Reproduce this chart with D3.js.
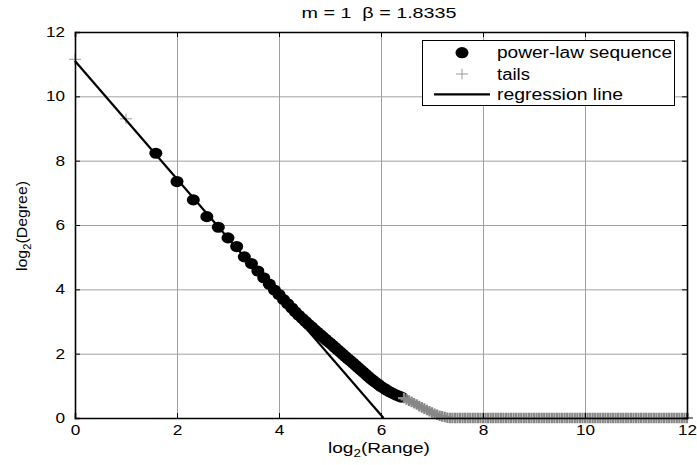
<!DOCTYPE html>
<html>
<head>
<meta charset="utf-8">
<script src="https://cdnjs.cloudflare.com/ajax/libs/d3/7.8.5/d3.min.js"></script>
<style>
    body { margin: 0; background: #fff; }
    svg { font-family: Arial, "Liberation Sans", Helvetica, sans-serif; }
    text { white-space: pre; }
</style>
</head>
<body>
<svg id="chart" width="697" height="465"></svg>
<script>
    // ---- data (log2 values) ----
    const xTicks = [0, 2, 4, 6, 8, 10, 12];
    const yTicks = [0, 2, 4, 6, 8, 10, 12];

    // black circles: power-law part of the sequence
    const powerX = [1.585, 2.0, 2.32, 2.585, 2.81, 3.0, 3.17, 3.32, 3.46, 3.585,
        3.70, 3.81, 3.91, 4.00, 4.09, 4.17, 4.25, 4.32, 4.39, 4.46,
        4.52, 4.58, 4.64, 4.70, 4.75, 4.81, 4.86, 4.91, 4.95, 5.00,
        5.05, 5.10, 5.15, 5.20, 5.25, 5.30, 5.35, 5.40, 5.45, 5.50,
        5.55, 5.60, 5.65, 5.70, 5.75, 5.80, 5.85, 5.90, 5.95, 6.00,
        6.05, 6.10, 6.15, 6.20, 6.25, 6.30, 6.35, 6.40];
    const powerY = [8.23, 7.35, 6.78, 6.26, 5.93, 5.60, 5.33, 5.01, 4.80, 4.57,
        4.36, 4.16, 3.98, 3.84, 3.68, 3.55, 3.42, 3.30, 3.19, 3.09,
        3.00, 2.91, 2.83, 2.74, 2.67, 2.59, 2.52, 2.45, 2.39, 2.33,
        2.26, 2.19, 2.12, 2.05, 1.98, 1.91, 1.84, 1.78, 1.71, 1.64,
        1.57, 1.50, 1.43, 1.36, 1.29, 1.22, 1.16, 1.10, 1.04, 0.98,
        0.93, 0.88, 0.83, 0.79, 0.75, 0.71, 0.68, 0.65];

    // gray pluses: head and tail of the sequence
    const tailX = [0, 1,
        6.45, 6.50, 6.55, 6.60, 6.65, 6.70, 6.75, 6.80, 6.85, 6.90,
        6.95, 7.00, 7.05, 7.10, 7.15, 7.20, 7.25, 7.30,
        7.35, 7.40, 7.45, 7.50, 7.55, 7.60, 7.65, 7.70, 7.75, 7.80,
        7.85, 7.90, 7.95, 8.00, 8.05, 8.10, 8.15, 8.20, 8.25, 8.30,
        8.35, 8.40, 8.45, 8.50, 8.55, 8.60, 8.65, 8.70, 8.75, 8.80,
        8.85, 8.90, 8.95, 9.00, 9.05, 9.10, 9.15, 9.20, 9.25, 9.30,
        9.35, 9.40, 9.45, 9.50, 9.55, 9.60, 9.65, 9.70, 9.75, 9.80,
        9.85, 9.90, 9.95, 10.00, 10.05, 10.10, 10.15, 10.20, 10.25, 10.30,
        10.35, 10.40, 10.45, 10.50, 10.55, 10.60, 10.65, 10.70, 10.75, 10.80,
        10.85, 10.90, 10.95, 11.00, 11.05, 11.10, 11.15, 11.20, 11.25, 11.30,
        11.35, 11.40, 11.45, 11.50, 11.55, 11.60, 11.65, 11.70, 11.75, 11.80,
        11.85, 11.90, 11.95, 12.00];
    const tailY = [11.15, 9.30,
        0.62, 0.58, 0.54, 0.50, 0.46, 0.42, 0.37, 0.33, 0.29, 0.25,
        0.21, 0.17, 0.13, 0.10, 0.07, 0.05, 0.03, 0.01,
        0, 0, 0, 0, 0, 0, 0, 0, 0, 0,
        0, 0, 0, 0, 0, 0, 0, 0, 0, 0,
        0, 0, 0, 0, 0, 0, 0, 0, 0, 0,
        0, 0, 0, 0, 0, 0, 0, 0, 0, 0,
        0, 0, 0, 0, 0, 0, 0, 0, 0, 0,
        0, 0, 0, 0, 0, 0, 0, 0, 0, 0,
        0, 0, 0, 0, 0, 0, 0, 0, 0, 0,
        0, 0, 0, 0, 0, 0, 0, 0, 0, 0,
        0, 0, 0, 0, 0, 0, 0, 0, 0, 0,
        0, 0, 0, 0];

    // regression line end points
    const regX = [0, 6.05];
    const regY = [11.1, 0];

    const legendLabels = ["power-law sequence", "tails", "regression line"];

    // ---- layout ----
    const svg = d3.select("#chart");
    const pLeft = 75, pRight = 687, pTop = 32, pBottom = 418;
    const x = d3.scaleLinear().domain([0, 12]).range([pLeft, pRight]);
    const y = d3.scaleLinear().domain([0, 12]).range([pBottom, pTop]);
    const gridColor = "#a0a0a0";
    const tailColor = "#878787";

    // grid
    svg.append("g")
        .attr("transform", `translate(0,${pBottom})`)
        .call(d3.axisBottom(x).tickValues(xTicks.slice(1, -1)).tickSize(-(pBottom - pTop)).tickFormat(""))
        .call(g => g.select(".domain").remove())
        .selectAll("line").attr("stroke", gridColor).attr("stroke-width", 1);
    svg.append("g")
        .attr("transform", `translate(${pLeft},0)`)
        .call(d3.axisLeft(y).tickValues(yTicks.slice(1, -1)).tickSize(-(pRight - pLeft)).tickFormat(""))
        .call(g => g.select(".domain").remove())
        .selectAll("line").attr("stroke", gridColor).attr("stroke-width", 1);

    // power-law markers (the figure is a bit wider than tall, so markers are too)
    svg.append("g")
        .selectAll("ellipse")
        .data(powerX)
        .join("ellipse")
        .attr("cx", d => x(d))
        .attr("cy", (d, i) => y(powerY[i]))
        .attr("rx", 6.5)
        .attr("ry", 5.6)
        .attr("fill", "#000");

    // tails as pluses
    const plus = (cx, cy, sx, sy) => `M${cx - sx},${cy}H${cx + sx}M${cx},${cy - sy}V${cy + sy}`;
    svg.append("g")
        .selectAll("path")
        .data(tailX)
        .join("path")
        .attr("d", (d, i) => plus(x(d), y(tailY[i]), 6, 5.3))
        .attr("stroke", (d, i) => i < 2 ? "#9a9a9a" : tailColor)
        .attr("stroke-width", (d, i) => i < 2 ? 1 : 2.2)
        .attr("fill", "none");

    // regression line
    svg.append("path")
        .datum(regX.map((d, i) => [d, regY[i]]))
        .attr("d", d3.line().x(d => x(d[0])).y(d => y(d[1])))
        .attr("stroke", "#000")
        .attr("stroke-width", 2.2)
        .attr("fill", "none");

    // axes (ticks inward on all four sides)
    const styleLabels = sel => sel.selectAll("text")
        .attr("fill", "#000")
        .style("font-size", "14.5px")
        .attr("textLength", d => d >= 10 ? 19 : 9.6)
        .attr("lengthAdjust", "spacingAndGlyphs");
    const axisB = svg.append("g")
        .attr("transform", `translate(0,${pBottom})`)
        .call(d3.axisBottom(x).tickValues(xTicks).tickSize(-5).tickPadding(7))
        .call(styleLabels);
    const axisL = svg.append("g")
        .attr("transform", `translate(${pLeft},0)`)
        .call(d3.axisLeft(y).tickValues(yTicks).tickSize(-5).tickPadding(10))
        .call(styleLabels);
    const axisT = svg.append("g")
        .attr("transform", `translate(0,${pTop})`)
        .call(d3.axisTop(x).tickValues(xTicks).tickSize(-5).tickFormat(""));
    const axisR = svg.append("g")
        .attr("transform", `translate(${pRight},0)`)
        .call(d3.axisRight(y).tickValues(yTicks).tickSize(-5).tickFormat(""));
    [axisB, axisL, axisT, axisR].forEach(a => {
        a.select(".domain").attr("stroke", "#000").attr("stroke-width", 1.6);
        a.selectAll(".tick line").attr("stroke", "#000").attr("stroke-width", 1);
    });

    // title
    svg.append("text")
        .attr("x", 379).attr("y", 18)
        .attr("text-anchor", "middle")
        .style("font-size", "14.5px")
        .attr("textLength", 155).attr("lengthAdjust", "spacingAndGlyphs")
        .text("m = 1  \u03B2 = 1.8335");

    // axis labels
    const xl = svg.append("text")
        .attr("x", 379).attr("y", 453)
        .attr("text-anchor", "middle")
        .style("font-size", "15px")
        .attr("textLength", 102).attr("lengthAdjust", "spacingAndGlyphs");
    xl.append("tspan").text("log");
    xl.append("tspan").attr("dy", 4).style("font-size", "10.5px").text("2");
    xl.append("tspan").attr("dy", -4).text("(Range)");

    const yl = svg.append("text")
        .attr("transform", "translate(27,226) rotate(-90)")
        .attr("text-anchor", "middle")
        .style("font-size", "15px")
        .attr("textLength", 90).attr("lengthAdjust", "spacingAndGlyphs");
    yl.append("tspan").text("log");
    yl.append("tspan").attr("dy", 4).style("font-size", "10.5px").text("2");
    yl.append("tspan").attr("dy", -4).text("(Degree)");

    // legend
    const lg = svg.append("g");
    lg.append("rect")
        .attr("x", 422.5).attr("y", 40.5)
        .attr("width", 252).attr("height", 65)
        .attr("fill", "#fff").attr("stroke", "#000").attr("stroke-width", 1);
    const rowY = [52.7, 74, 94.3];
    const textLen = [175, 33, 126];
    lg.append("ellipse").attr("cx", 462).attr("cy", rowY[0]).attr("rx", 6.5).attr("ry", 5.6).attr("fill", "#000");
    lg.append("path").attr("d", plus(462, rowY[1], 6, 5.3))
        .attr("stroke", "#9a9a9a").attr("stroke-width", 1);
    lg.append("line")
        .attr("x1", 434).attr("x2", 490).attr("y1", rowY[2]).attr("y2", rowY[2])
        .attr("stroke", "#000").attr("stroke-width", 2.2);
    lg.selectAll("text.lab")
        .data(legendLabels)
        .join("text")
        .attr("class", "lab")
        .attr("x", 497)
        .attr("y", (d, i) => rowY[i] + 5.6)
        .style("font-size", "16px")
        .attr("textLength", (d, i) => textLen[i])
        .attr("lengthAdjust", "spacingAndGlyphs")
        .text(d => d);
</script>
</body>
</html>
